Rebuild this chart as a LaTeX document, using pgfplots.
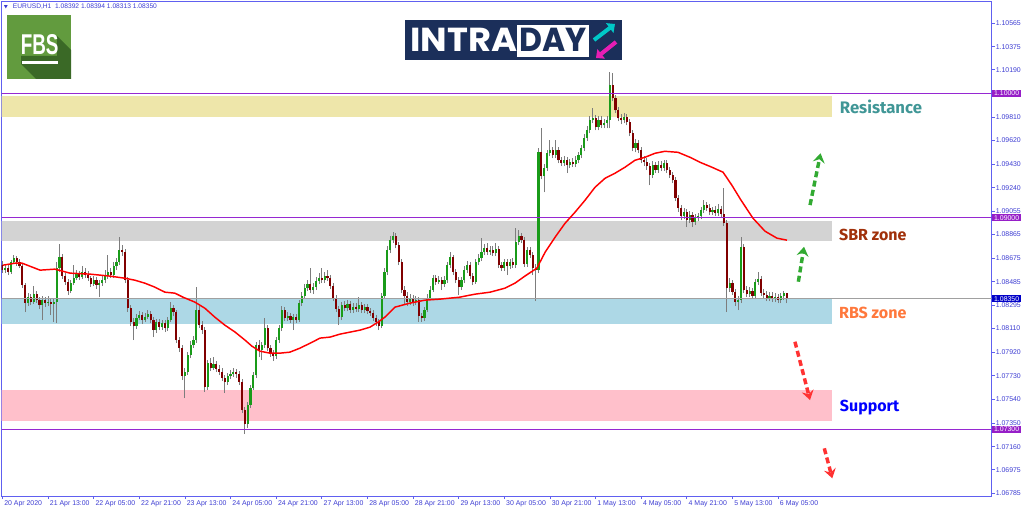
\documentclass[border=0pt]{standalone}
\usepackage{fontspec}
\setmainfont{Liberation Sans}
\newfontfamily\fira{Fira Sans}
\newfontfamily\logofont{Poppins}
\usepackage{graphicx}
\usepackage{pgfplots}
\usepackage{pgfplotstable}
\pgfplotsset{compat=1.18}
\usetikzlibrary{arrows.meta}

\definecolor{frameblue}{RGB}{96,96,240}
\definecolor{labelblue}{RGB}{60,60,210}
\definecolor{upgreen}{RGB}{25,155,25}
\definecolor{downred}{RGB}{128,0,0}
\definecolor{wickgray}{RGB}{125,125,125}
\definecolor{reszone}{RGB}{238,230,170}
\definecolor{sbrzone}{RGB}{211,211,211}
\definecolor{rbszone}{RGB}{173,216,230}
\definecolor{supzone}{RGB}{255,192,203}
\definecolor{violetline}{RGB}{150,40,210}
\definecolor{pricegray}{RGB}{160,160,160}
\definecolor{boxviolet}{RGB}{150,30,200}
\definecolor{boxblue}{RGB}{0,0,200}
\definecolor{restext}{RGB}{64,150,150}
\definecolor{sbrtext}{RGB}{160,48,10}
\definecolor{rbstext}{RGB}{255,120,60}
\definecolor{suptext}{RGB}{0,0,255}
\definecolor{arrgreen}{RGB}{50,170,50}
\definecolor{arrred}{RGB}{255,50,50}
\definecolor{fbsgreen}{RGB}{98,155,62}
\definecolor{fbsdark}{RGB}{58,105,38}
\definecolor{navy}{RGB}{27,47,90}
\definecolor{logocyan}{RGB}{0,200,200}
\definecolor{logomag}{RGB}{230,30,180}

\pgfplotstableread{
i o h l c
0 1.08619 1.08651 1.08555 1.08579
1 1.08579 1.08627 1.08555 1.08595
2 1.08595 1.08619 1.08539 1.08563
3 1.08563 1.08659 1.08547 1.08643
4 1.08643 1.08699 1.08627 1.08675
5 1.08675 1.08691 1.08611 1.08643
6 1.08643 1.08667 1.08595 1.08611
7 1.08611 1.08627 1.08434 1.08458
8 1.08458 1.08474 1.08241 1.08314
9 1.08314 1.08394 1.08290 1.08362
10 1.08362 1.08386 1.08298 1.08322
11 1.08322 1.08450 1.08306 1.08386
12 1.08386 1.08410 1.08314 1.08338
13 1.08338 1.08362 1.08266 1.08298
14 1.08298 1.08370 1.08177 1.08338
15 1.08338 1.08362 1.08282 1.08314
16 1.08314 1.08370 1.08290 1.08322
17 1.08322 1.08354 1.08217 1.08306
18 1.08306 1.08346 1.08161 1.08322
19 1.08322 1.08643 1.08153 1.08595
20 1.08595 1.08788 1.08563 1.08683
21 1.08683 1.08707 1.08507 1.08531
22 1.08531 1.08555 1.08458 1.08482
23 1.08482 1.08507 1.08378 1.08410
24 1.08410 1.08498 1.08394 1.08474
25 1.08474 1.08619 1.08458 1.08514
26 1.08514 1.08579 1.08498 1.08547
27 1.08547 1.08571 1.08498 1.08523
28 1.08523 1.08611 1.08507 1.08563
29 1.08563 1.08595 1.08514 1.08539
30 1.08539 1.08571 1.08490 1.08514
31 1.08514 1.08531 1.08442 1.08466
32 1.08466 1.08531 1.08450 1.08498
33 1.08498 1.08523 1.08426 1.08458
34 1.08458 1.08498 1.08362 1.08474
35 1.08474 1.08531 1.08450 1.08498
36 1.08498 1.08579 1.08474 1.08531
37 1.08531 1.08699 1.08507 1.08563
38 1.08563 1.08595 1.08514 1.08539
39 1.08539 1.08643 1.08514 1.08611
40 1.08611 1.08675 1.08579 1.08643
41 1.08643 1.08844 1.08619 1.08739
42 1.08739 1.08780 1.08691 1.08723
43 1.08723 1.08747 1.08474 1.08498
44 1.08498 1.08523 1.08241 1.08273
45 1.08273 1.08298 1.08129 1.08161
46 1.08161 1.08193 1.08016 1.08129
47 1.08129 1.08225 1.08105 1.08193
48 1.08193 1.08249 1.08177 1.08217
49 1.08217 1.08241 1.08145 1.08177
50 1.08177 1.08233 1.08161 1.08201
51 1.08201 1.08257 1.08185 1.08225
52 1.08225 1.08249 1.08153 1.08177
53 1.08177 1.08201 1.08041 1.08097
54 1.08097 1.08185 1.08073 1.08161
55 1.08161 1.08185 1.08097 1.08121
56 1.08121 1.08177 1.08097 1.08153
57 1.08153 1.08177 1.08081 1.08113
58 1.08113 1.08201 1.08089 1.08177
59 1.08177 1.08322 1.08161 1.08273
60 1.08273 1.08298 1.08209 1.08241
61 1.08241 1.08257 1.07992 1.08016
62 1.08016 1.08041 1.07920 1.07952
63 1.07952 1.07976 1.07695 1.07728
64 1.07728 1.07792 1.07551 1.07760
65 1.07760 1.07920 1.07736 1.07896
66 1.07896 1.08008 1.07872 1.07976
67 1.07976 1.08049 1.07952 1.08016
68 1.08016 1.08442 1.07992 1.08257
69 1.08257 1.08290 1.08113 1.08137
70 1.08137 1.08169 1.08065 1.08097
71 1.08097 1.08121 1.07599 1.07639
72 1.07639 1.07856 1.07615 1.07832
73 1.07832 1.07872 1.07768 1.07792
74 1.07792 1.07880 1.07776 1.07824
75 1.07824 1.07848 1.07760 1.07784
76 1.07784 1.07816 1.07736 1.07760
77 1.07760 1.07792 1.07687 1.07711
78 1.07711 1.07736 1.07591 1.07679
79 1.07679 1.07752 1.07655 1.07728
80 1.07728 1.07776 1.07703 1.07744
81 1.07744 1.07792 1.07720 1.07760
82 1.07760 1.07784 1.07711 1.07744
83 1.07744 1.07768 1.07655 1.07679
84 1.07679 1.07703 1.07430 1.07454
85 1.07454 1.07478 1.07262 1.07342
86 1.07342 1.07519 1.07310 1.07495
87 1.07495 1.07655 1.07470 1.07631
88 1.07631 1.07760 1.07615 1.07736
89 1.07736 1.08000 1.07711 1.07976
90 1.07976 1.08016 1.07880 1.07936
91 1.07936 1.08000 1.07856 1.07976
92 1.07976 1.08193 1.07952 1.08113
93 1.08113 1.08137 1.07928 1.07952
94 1.07952 1.07976 1.07880 1.07904
95 1.07904 1.07936 1.07848 1.07888
96 1.07888 1.08041 1.07864 1.08016
97 1.08016 1.08137 1.07992 1.08113
98 1.08113 1.08290 1.08089 1.08257
99 1.08257 1.08282 1.08169 1.08193
100 1.08193 1.08241 1.08169 1.08209
101 1.08209 1.08233 1.08153 1.08177
102 1.08177 1.08225 1.08097 1.08201
103 1.08201 1.08225 1.08153 1.08177
104 1.08177 1.08338 1.08161 1.08314
105 1.08314 1.08402 1.08290 1.08370
106 1.08370 1.08466 1.08346 1.08434
107 1.08434 1.08498 1.08410 1.08466
108 1.08466 1.08595 1.08394 1.08418
109 1.08418 1.08474 1.08386 1.08442
110 1.08442 1.08523 1.08418 1.08490
111 1.08490 1.08555 1.08466 1.08514
112 1.08514 1.08595 1.08474 1.08498
113 1.08498 1.08563 1.08474 1.08531
114 1.08531 1.08579 1.08490 1.08514
115 1.08514 1.08539 1.08426 1.08450
116 1.08450 1.08474 1.08330 1.08354
117 1.08354 1.08378 1.08241 1.08266
118 1.08266 1.08290 1.08137 1.08201
119 1.08201 1.08322 1.08177 1.08298
120 1.08298 1.08330 1.08249 1.08273
121 1.08273 1.08338 1.08249 1.08306
122 1.08306 1.08330 1.08233 1.08257
123 1.08257 1.08314 1.08233 1.08282
124 1.08282 1.08314 1.08241 1.08266
125 1.08266 1.08362 1.08241 1.08298
126 1.08298 1.08322 1.08233 1.08257
127 1.08257 1.08306 1.08233 1.08282
128 1.08282 1.08306 1.08225 1.08249
129 1.08249 1.08273 1.08209 1.08233
130 1.08233 1.08257 1.08169 1.08193
131 1.08193 1.08217 1.08129 1.08161
132 1.08161 1.08185 1.08097 1.08129
133 1.08129 1.08394 1.08113 1.08370
134 1.08370 1.08595 1.08346 1.08563
135 1.08563 1.08772 1.08539 1.08739
136 1.08739 1.08852 1.08715 1.08820
137 1.08820 1.08884 1.08796 1.08852
138 1.08852 1.08876 1.08755 1.08780
139 1.08780 1.08804 1.08619 1.08643
140 1.08643 1.08667 1.08394 1.08418
141 1.08418 1.08450 1.08298 1.08370
142 1.08370 1.08402 1.08290 1.08322
143 1.08322 1.08386 1.08298 1.08354
144 1.08354 1.08378 1.08290 1.08322
145 1.08322 1.08370 1.08298 1.08338
146 1.08338 1.08362 1.08161 1.08209
147 1.08209 1.08233 1.08161 1.08193
148 1.08193 1.08282 1.08169 1.08257
149 1.08257 1.08386 1.08241 1.08354
150 1.08354 1.08450 1.08338 1.08418
151 1.08418 1.08539 1.08402 1.08514
152 1.08514 1.08539 1.08458 1.08482
153 1.08482 1.08531 1.08466 1.08498
154 1.08498 1.08523 1.08418 1.08466
155 1.08466 1.08531 1.08442 1.08498
156 1.08498 1.08643 1.08474 1.08619
157 1.08619 1.08723 1.08595 1.08683
158 1.08683 1.08699 1.08539 1.08563
159 1.08563 1.08587 1.08474 1.08498
160 1.08498 1.08523 1.08378 1.08442
161 1.08442 1.08523 1.08418 1.08498
162 1.08498 1.08611 1.08474 1.08579
163 1.08579 1.08651 1.08555 1.08619
164 1.08619 1.08643 1.08507 1.08531
165 1.08531 1.08555 1.08458 1.08482
166 1.08482 1.08667 1.08466 1.08643
167 1.08643 1.08707 1.08619 1.08675
168 1.08675 1.08836 1.08651 1.08723
169 1.08723 1.08788 1.08699 1.08755
170 1.08755 1.08796 1.08699 1.08723
171 1.08723 1.08772 1.08699 1.08739
172 1.08739 1.08772 1.08691 1.08715
173 1.08715 1.08796 1.08691 1.08747
174 1.08747 1.08772 1.08595 1.08619
175 1.08619 1.08643 1.08571 1.08595
176 1.08595 1.08667 1.08571 1.08643
177 1.08643 1.08667 1.08539 1.08611
178 1.08611 1.08667 1.08587 1.08643
179 1.08643 1.08675 1.08595 1.08619
180 1.08619 1.08916 1.08595 1.08804
181 1.08804 1.08900 1.08780 1.08852
182 1.08852 1.08876 1.08796 1.08820
183 1.08820 1.08844 1.08603 1.08627
184 1.08627 1.08763 1.08603 1.08739
185 1.08739 1.08763 1.08675 1.08699
186 1.08699 1.08723 1.08539 1.08595
187 1.08595 1.08627 1.08330 1.08579
188 1.08579 1.09558 1.08555 1.09526
189 1.09526 1.09719 1.09309 1.09333
190 1.09333 1.09430 1.09205 1.09398
191 1.09398 1.09542 1.09374 1.09518
192 1.09518 1.09623 1.09494 1.09542
193 1.09542 1.09566 1.09478 1.09502
194 1.09502 1.09623 1.09478 1.09542
195 1.09542 1.09566 1.09438 1.09462
196 1.09462 1.09486 1.09414 1.09438
197 1.09438 1.09494 1.09414 1.09462
198 1.09462 1.09486 1.09358 1.09422
199 1.09422 1.09470 1.09398 1.09446
200 1.09446 1.09478 1.09406 1.09430
201 1.09430 1.09494 1.09406 1.09462
202 1.09462 1.09526 1.09438 1.09502
203 1.09502 1.09582 1.09478 1.09558
204 1.09558 1.09671 1.09534 1.09639
205 1.09639 1.09735 1.09615 1.09703
206 1.09703 1.09815 1.09679 1.09783
207 1.09783 1.09880 1.09759 1.09799
208 1.09799 1.09823 1.09703 1.09727
209 1.09727 1.09815 1.09703 1.09783
210 1.09783 1.09815 1.09719 1.09743
211 1.09743 1.09791 1.09719 1.09759
212 1.09759 1.09815 1.09719 1.09783
213 1.09783 1.10169 1.09719 1.10065
214 1.10065 1.10161 1.09936 1.09960
215 1.09960 1.09984 1.09840 1.09864
216 1.09864 1.09888 1.09775 1.09799
217 1.09799 1.09832 1.09751 1.09783
218 1.09783 1.09840 1.09759 1.09807
219 1.09807 1.09832 1.09743 1.09767
220 1.09767 1.09791 1.09655 1.09679
221 1.09679 1.09703 1.09534 1.09558
222 1.09558 1.09631 1.09526 1.09599
223 1.09599 1.09623 1.09518 1.09542
224 1.09542 1.09566 1.09438 1.09462
225 1.09462 1.09494 1.09414 1.09446
226 1.09446 1.09478 1.09382 1.09414
227 1.09414 1.09438 1.09261 1.09342
228 1.09342 1.09454 1.09318 1.09422
229 1.09422 1.09446 1.09358 1.09382
230 1.09382 1.09454 1.09358 1.09422
231 1.09422 1.09454 1.09374 1.09398
232 1.09398 1.09462 1.09374 1.09438
233 1.09438 1.09462 1.09358 1.09382
234 1.09382 1.09406 1.09318 1.09342
235 1.09342 1.09366 1.09277 1.09301
236 1.09301 1.09326 1.09133 1.09157
237 1.09157 1.09181 1.09045 1.09077
238 1.09077 1.09101 1.08980 1.09013
239 1.09013 1.09077 1.08988 1.09045
240 1.09045 1.09069 1.08924 1.08980
241 1.08980 1.09053 1.08956 1.09021
242 1.09021 1.09045 1.08924 1.08964
243 1.08964 1.09029 1.08940 1.08996
244 1.08996 1.09037 1.08972 1.09013
245 1.09013 1.09085 1.08988 1.09061
246 1.09061 1.09141 1.09037 1.09101
247 1.09101 1.09125 1.09053 1.09077
248 1.09077 1.09109 1.09021 1.09045
249 1.09045 1.09085 1.09021 1.09061
250 1.09061 1.09093 1.09013 1.09037
251 1.09037 1.09109 1.09013 1.09069
252 1.09069 1.09093 1.09005 1.09029
253 1.09029 1.09237 1.08932 1.08956
254 1.08956 1.08980 1.08241 1.08434
255 1.08434 1.08514 1.08402 1.08474
256 1.08474 1.08498 1.08378 1.08402
257 1.08402 1.08426 1.08290 1.08322
258 1.08322 1.08370 1.08257 1.08338
259 1.08338 1.08844 1.08314 1.08763
260 1.08763 1.08788 1.08394 1.08418
261 1.08418 1.08450 1.08362 1.08386
262 1.08386 1.08442 1.08362 1.08410
263 1.08410 1.08434 1.08346 1.08370
264 1.08370 1.08507 1.08346 1.08482
265 1.08482 1.08563 1.08458 1.08507
266 1.08507 1.08531 1.08370 1.08394
267 1.08394 1.08426 1.08354 1.08378
268 1.08378 1.08410 1.08330 1.08354
269 1.08354 1.08402 1.08330 1.08370
270 1.08370 1.08402 1.08322 1.08346
271 1.08346 1.08394 1.08322 1.08362
272 1.08362 1.08386 1.08314 1.08338
273 1.08338 1.08394 1.08314 1.08370
274 1.08370 1.08410 1.08338 1.08392
275 1.08392 1.08394 1.08313 1.08350
}\candles

\pgfplotstableread{
i p
0.2 1.08619
4.4 1.08635
6.9 1.08635
13.2 1.08579
18.4 1.08587
23.7 1.08555
30.7 1.08547
37.7 1.08531
43.0 1.08514
46.5 1.08498
50.0 1.08474
53.5 1.08442
57.0 1.08402
60.5 1.08394
63.3 1.08362
67.5 1.08322
71.0 1.08273
74.5 1.08201
78.0 1.08137
81.6 1.08081
85.1 1.08016
87.5 1.07968
90.3 1.07928
93.8 1.07912
97.3 1.07912
100.8 1.07920
104.3 1.07952
107.9 1.07992
111.4 1.08033
114.9 1.08041
118.4 1.08065
121.9 1.08081
125.4 1.08097
128.9 1.08121
131.7 1.08161
134.1 1.08201
137.7 1.08282
142.9 1.08314
148.2 1.08338
153.4 1.08346
160.4 1.08362
165.7 1.08386
171.0 1.08402
176.2 1.08434
179.7 1.08474
183.2 1.08531
187.4 1.08595
190.3 1.08723
193.8 1.08844
197.3 1.08956
200.8 1.09045
204.3 1.09141
207.8 1.09245
211.3 1.09317
214.8 1.09358
218.3 1.09406
221.8 1.09462
225.3 1.09486
228.8 1.09518
232.3 1.09534
236.9 1.09526
241.1 1.09486
244.6 1.09446
248.8 1.09406
252.7 1.09366
255.8 1.09261
259.0 1.09141
263.2 1.08996
267.4 1.08892
271.6 1.08836
275.1 1.08820
}\matable

\begin{document}
\begin{tikzpicture}
\useasboundingbox (0,0) rectangle (768pt,383.25pt);
\begin{axis}[
  at={(1.275pt,11.25pt)}, anchor=south west,
  scale only axis, width=742.5pt, height=370.875pt,
  xmin=-0.25, xmax=346.9, ymin=1.06764, ymax=1.10738,
  axis line style={draw=frameblue, line width=0.7pt},
  xtick={0,16,32,48,64,80,96,112,128,144,160,176,192,208,224,240,256,272},
  xticklabels={20 Apr 2020,21 Apr 13:00,22 Apr 05:00,22 Apr 21:00,23 Apr 13:00,24 Apr 05:00,24 Apr 21:00,27 Apr 13:00,28 Apr 05:00,28 Apr 21:00,29 Apr 13:00,30 Apr 05:00,30 Apr 21:00,1 May 13:00,4 May 05:00,4 May 21:00,5 May 13:00,6 May 05:00},
  ytick={1.06785,1.06975,1.07160,1.07350,1.07540,1.07730,1.07920,1.08110,1.08295,1.08485,1.08675,1.08865,1.09055,1.09240,1.09430,1.09620,1.09810,1.10000,1.10190,1.10375,1.10565},
  yticklabels={1.06785,1.06975,1.07160,1.07350,1.07540,1.07730,1.07920,1.08110,1.08295,1.08485,1.08675,1.08865,1.09055,1.09240,1.09430,1.09620,1.09810,1.10000,1.10190,1.10375,1.10565},
  xtick pos=left, ytick pos=right,
  tick align=outside, major tick length=2.25pt,
  tick style={draw=frameblue, line width=0.6pt},
  ticklabel style={font=\fontsize{5.2}{6}\selectfont, text=labelblue},
  xticklabel style={anchor=north west, inner sep=0pt, xshift=1.2pt, yshift=-0.8pt},
  yticklabel style={anchor=west, inner sep=0pt, xshift=0.6pt},
  unbounded coords=discard,
]
% zones
\addplot[fill=reszone, draw=none, forget plot] coordinates {(-1,1.09807) (290.8,1.09807) (290.8,1.09978) (-1,1.09978)} --cycle;
\addplot[fill=sbrzone, draw=none, forget plot] coordinates {(-1,1.08813) (290.8,1.08813) (290.8,1.08976) (-1,1.08976)} --cycle;
\addplot[fill=rbszone, draw=none, forget plot] coordinates {(-1,1.08149) (290.8,1.08149) (290.8,1.08347) (-1,1.08347)} --cycle;
\addplot[fill=supzone, draw=none, forget plot] coordinates {(-1,1.07369) (290.8,1.07369) (290.8,1.07616) (-1,1.07616)} --cycle;
% wicks
\addplot[draw=none, mark=none, forget plot,
  error bars/.cd, y dir=plus, y explicit, error mark=none,
  error bar style={draw=wickgray, line width=0.7pt}]
  table[x=i, y=l, y error plus expr=\thisrow{h}-\thisrow{l}] {\candles};
% bullish bodies
\addplot[draw=none, mark=none, forget plot,
  error bars/.cd, y dir=plus, y explicit, error mark=none,
  error bar style={draw=upgreen, line width=1.6pt}]
  table[x=i, y expr={\thisrow{c}>\thisrow{o} ? \thisrow{o} : nan}, y error plus expr=\thisrow{c}-\thisrow{o}] {\candles};
% bearish bodies
\addplot[draw=none, mark=none, forget plot,
  error bars/.cd, y dir=plus, y explicit, error mark=none,
  error bar style={draw=downred, line width=1.6pt}]
  table[x=i, y expr={\thisrow{c}<\thisrow{o} ? \thisrow{c} : nan}, y error plus expr=\thisrow{o}-\thisrow{c}] {\candles};
% horizontal levels
\addplot[violetline, line width=1.1pt, forget plot] coordinates {(-1,1.1) (350,1.1)};
\addplot[violetline, line width=1.1pt, forget plot] coordinates {(-1,1.09) (350,1.09)};
\addplot[violetline, line width=1.1pt, forget plot] coordinates {(-1,1.073) (350,1.073)};
\addplot[pricegray, line width=0.7pt, forget plot] coordinates {(-1,1.0835) (350,1.0835)};
% moving average
\addplot[red, line width=1.1pt, line join=round, forget plot] table[x=i, y=p] {\matable};
% arrows
\addplot[arrgreen, line width=2.6pt, dash pattern=on 4.5pt off 2.6pt, -{Stealth[length=7pt,width=9pt,inset=2.5pt]}, forget plot] coordinates {(283.2,1.09102) (286.9,1.09518)};
\addplot[arrgreen, line width=2.6pt, dash pattern=on 4.5pt off 2.6pt, -{Stealth[length=7pt,width=9pt,inset=2.5pt]}, forget plot] coordinates {(279.1,1.08486) (281.1,1.08767)};
\addplot[arrred, line width=2.6pt, dash pattern=on 4.5pt off 2.6pt, -{Stealth[length=7pt,width=9pt,inset=2.5pt]}, forget plot] coordinates {(277.9,1.08004) (283.2,1.07535)};
\addplot[arrred, line width=2.6pt, dash pattern=on 4.5pt off 2.6pt, -{Stealth[length=7pt,width=9pt,inset=2.5pt]}, forget plot] coordinates {(288.2,1.07147) (291.0,1.06906)};
% zone labels
\node[anchor=base west, inner sep=0pt, text=restext] at (axis cs:293.6,1.09841) {\resizebox{61.5pt}{!}{\fira\bfseries Resistance}};
\node[anchor=base west, inner sep=0pt, text=sbrtext] at (axis cs:293.3,1.08821) {\resizebox{50.5pt}{!}{\fira\bfseries SBR zone}};
\node[anchor=base west, inner sep=0pt, text=rbstext] at (axis cs:293.3,1.08194) {\resizebox{50.5pt}{!}{\fira\bfseries RBS zone}};
\node[anchor=base west, inner sep=0pt, text=suptext] at (axis cs:293.6,1.07441) {\resizebox{44.5pt}{!}{\fira\bfseries Support}};
\coordinate (b1) at (axis cs:346.9,1.1);
\coordinate (b2) at (axis cs:346.9,1.09);
\coordinate (b3) at (axis cs:346.9,1.0835);
\coordinate (b4) at (axis cs:346.9,1.073);
\end{axis}
% price boxes on the axis
\tikzset{pricebox/.style={anchor=west, text=white, inner xsep=1pt, inner ysep=0.7pt, minimum width=22pt, font=\fontsize{5.2}{6}\selectfont}}
\node[pricebox, fill=boxviolet] at (b1) {1.10000};
\node[pricebox, fill=boxviolet] at (b2) {1.09000};
\node[pricebox, fill=boxblue] at (b3) {1.08350};
\node[pricebox, fill=boxviolet] at (b4) {1.07300};
% decorations in pixel coordinates
\begin{scope}[x=0.75pt, y=-0.75pt, shift={(0pt,383.25pt)}]
  % header
  \fill[labelblue] (4,5.2) -- (7.6,5.2) -- (5.8,8.4) -- cycle;
  \node[anchor=west, inner sep=0pt, text=labelblue] at (12.7,6.9) {\resizebox{108pt}{!}{EURUSD,H1\ \ 1.08392 1.08394 1.08313 1.08350}};
  % FBS logo
  \fill[fbsgreen] (7.3,15) rectangle (71,79);
  \fill[fbsdark] (57,36) -- (71,50) -- (71,79) -- (36,79) -- (21,64) -- (21,56) -- (57,56) -- cycle;
  \node[anchor=south west, inner sep=0pt, text=white] at (20.5,55) {\resizebox{28.3pt}{15pt}{\bfseries FBS}};
  \fill[white] (21.7,61) rectangle (58.3,64);
  % INTRADAY logo
  \fill[navy] (405,20) rectangle (621.7,60);
  \fill[white] (517.3,25) rectangle (589.3,56.7);
  \node[anchor=south west, inner sep=0pt, text=white] at (410,51.7) {\resizebox{80.25pt}{17.5pt}{\logofont\bfseries INTRA}};
  \node[anchor=south west, inner sep=0pt, text=navy] at (519.5,51.7) {\resizebox{50.5pt}{17.5pt}{\logofont\bfseries DAY}};
  \draw[logocyan, line width=3pt, -{Triangle[length=5pt,width=9pt]}] (594,40) -- (615,24);
  \draw[logomag, line width=3pt, -{Triangle[length=5pt,width=9pt]}] (616,42) -- (596,58);
\end{scope}
\end{tikzpicture}
\end{document}
